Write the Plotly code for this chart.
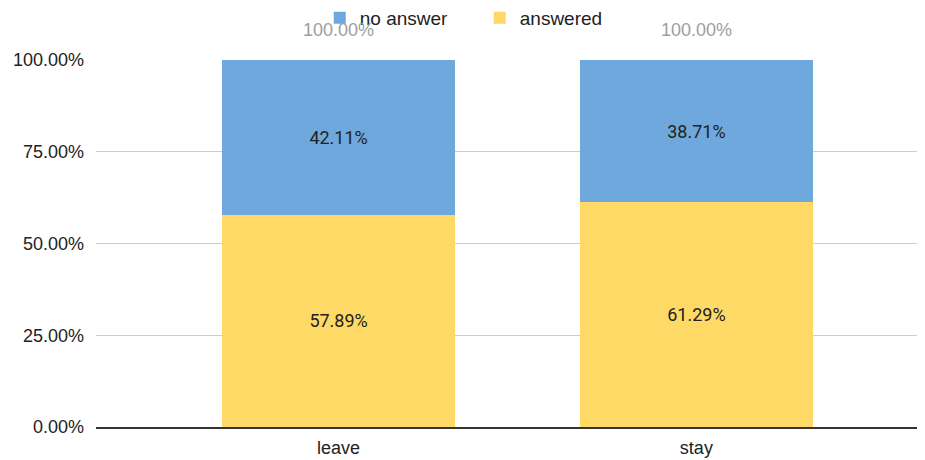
import plotly.graph_objects as go

categories = ["leave", "stay"]
answered = [0.5789, 0.6129]
no_answer = [0.4211, 0.3871]
totals = [1.0, 1.0]
total_labels = ["100.00%", "100.00%"]
y_ticks = [0, 0.25, 0.5, 0.75, 1.0]
y_tick_labels = ["0.00%", "25.00%", "50.00%", "75.00%", "100.00%"]

FONT = "Liberation Sans, Arial, sans-serif"
BAR_FONT = "Roboto, Liberation Sans, sans-serif"

fig = go.Figure()
fig.add_trace(go.Bar(
    name="answered", x=categories, y=answered,
    marker=dict(color="#FFD966", line=dict(width=0)),
    text=[f"{v*100:.2f}%" for v in answered], textposition="inside",
    insidetextanchor="middle", textfont=dict(color="#222222", size=18, family=BAR_FONT),
    width=0.65, legendrank=2,
))
fig.add_trace(go.Bar(
    name="no answer", x=categories, y=no_answer,
    marker=dict(color="#6FA8DC", line=dict(width=0)),
    text=[f"{v*100:.2f}%" for v in no_answer], textposition="inside",
    insidetextanchor="middle", textfont=dict(color="#222222", size=18, family=BAR_FONT),
    width=0.65, legendrank=1,
))

for c, t, lab in zip(categories, totals, total_labels):
    fig.add_annotation(x=c, y=t, text=lab, showarrow=False, yanchor="bottom",
                       yshift=18, font=dict(color="#9e9e9e", size=18, family=FONT))

fig.update_layout(
    barmode="stack",
    width=925, height=460,
    margin=dict(l=88, r=8, t=52, b=41, autoexpand=False),
    paper_bgcolor="white", plot_bgcolor="white",
    font=dict(family=FONT, size=18, color="#333333"),
    showlegend=True,
    legend=dict(orientation="h", xref="container", yref="paper",
                x=0.51, xanchor="center", y=1.1144, yanchor="middle",
                font=dict(size=19, color="#222222"), traceorder="normal",
                itemsizing="constant", entrywidth=115),
    xaxis=dict(range=[-0.678, 1.639], showgrid=False, showline=True,
               linecolor="#333333", linewidth=1.5, ticks="",
               tickfont=dict(size=18, color="#222222"), ticklabelstandoff=4,
               fixedrange=True),
    yaxis=dict(range=[0, 1], tickvals=y_ticks, ticktext=y_tick_labels,
               showgrid=True, gridcolor="#cccccc", gridwidth=1, zeroline=False,
               ticks="", tickfont=dict(size=18, color="#222222"),
               ticklabelstandoff=11),
)

fig.write_html("out.html")
